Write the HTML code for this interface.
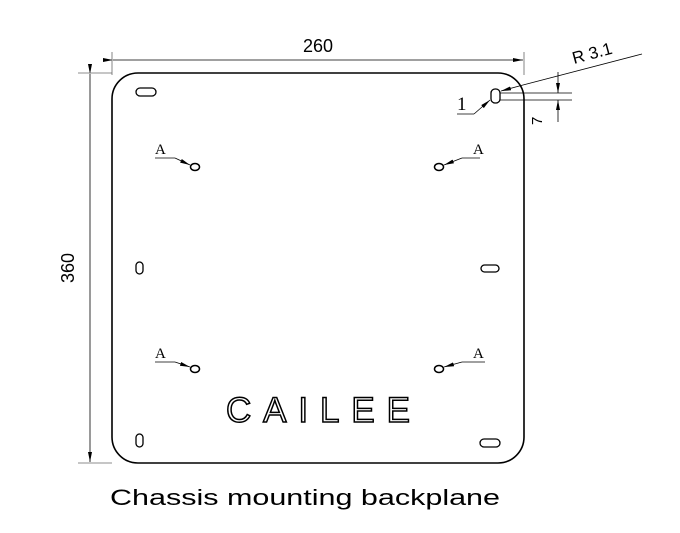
<!DOCTYPE html>
<html><head><style>body{margin:0;background:#fff}svg{display:block}</style></head><body>
<svg width="680" height="533" viewBox="0 0 680 533" xmlns="http://www.w3.org/2000/svg" font-family="Liberation Sans, sans-serif">
<defs><marker id="ar" markerWidth="10" markerHeight="6" refX="10" refY="3" orient="auto" markerUnits="userSpaceOnUse"><path d="M0,1 L10,3 L0,5z" fill="#000"/></marker></defs>
<g stroke="#000" fill="none">
<rect x="112" y="73" width="412" height="390" rx="26" stroke-width="1.6"/>
<line x1="112" y1="52" x2="112" y2="75" stroke="#666" stroke-width="0.8"/>
<line x1="524" y1="52" x2="524" y2="75" stroke="#666" stroke-width="0.8"/>
<line x1="113" y1="60" x2="523" y2="60" stroke-width="0.8" marker-start="url(#ar)" marker-end="url(#ar)"/>
<line x1="78" y1="73" x2="112" y2="73" stroke="#666" stroke-width="0.8"/>
<line x1="78" y1="463" x2="112" y2="463" stroke="#666" stroke-width="0.8"/>
<line x1="90" y1="74" x2="90" y2="462" stroke-width="0.8" marker-start="url(#ar)" marker-end="url(#ar)"/>
<rect x="136" y="88" width="20" height="8" rx="4" stroke-width="1.3"/>
<rect x="491" y="89" width="9" height="14" rx="4" stroke-width="1.3"/>
<rect x="136" y="262" width="7" height="12" rx="3.5" stroke-width="1.3"/>
<rect x="481" y="265" width="18" height="7" rx="3.5" stroke-width="1.3"/>
<rect x="136" y="434" width="7" height="13" rx="3.5" stroke-width="1.3"/>
<rect x="480" y="439" width="20" height="8" rx="4" stroke-width="1.3"/>
<ellipse cx="195" cy="167" rx="4.5" ry="3.5" stroke-width="1.5"/>
<ellipse cx="439" cy="167" rx="4.5" ry="3.5" stroke-width="1.5"/>
<ellipse cx="195" cy="369" rx="4.5" ry="3.5" stroke-width="1.5"/>
<ellipse cx="439" cy="369" rx="4.5" ry="3.5" stroke-width="1.5"/>
<g stroke-width="0.8">
<line x1="155" y1="158" x2="175" y2="158"/><line x1="175" y1="158" x2="190" y2="165" marker-end="url(#ar)"/>
<line x1="480" y1="158" x2="462" y2="158"/><line x1="462" y1="158" x2="444" y2="165" marker-end="url(#ar)"/>
<line x1="155" y1="362" x2="175" y2="362"/><line x1="175" y1="362" x2="190" y2="367" marker-end="url(#ar)"/>
<line x1="485" y1="362" x2="462" y2="362"/><line x1="462" y1="362" x2="444" y2="367" marker-end="url(#ar)"/>
<line x1="457" y1="114" x2="474" y2="114"/><line x1="474" y1="114" x2="490" y2="100" marker-end="url(#ar)"/>
<line x1="642" y1="54" x2="523" y2="85"/><line x1="523" y1="85" x2="501" y2="91" marker-end="url(#ar)"/>
<line x1="500" y1="93" x2="572" y2="93"/><line x1="500" y1="100" x2="572" y2="100"/>
<line x1="558" y1="72" x2="558" y2="93" marker-end="url(#ar)"/><line x1="558" y1="122" x2="558" y2="100" marker-end="url(#ar)"/>
</g>
</g>
<g font-family="Liberation Serif, serif" font-size="15" fill="#000">
<text x="155" y="154">A</text><text x="473" y="154">A</text>
<text x="155" y="358">A</text><text x="473" y="358">A</text>
<text x="457" y="110" font-size="19">1</text>
</g>
<text x="318" y="52" font-size="18" text-anchor="middle">260</text>
<text x="0" y="0" font-size="18" text-anchor="middle" transform="translate(74,268) rotate(-90)">360</text>
<text x="0" y="0" font-size="17" transform="translate(574,64) rotate(-15)">R 3.1</text>
<text x="0" y="0" font-size="15" transform="translate(542,125) rotate(-90)">7</text>
<text x="226" y="422" font-size="35" fill="#fff" stroke="#000" stroke-width="1.5" textLength="184" lengthAdjust="spacing">CAILEE</text>
<text x="110" y="505" font-size="22" textLength="390" lengthAdjust="spacingAndGlyphs">Chassis mounting backplane</text>
</svg>
</body></html>
